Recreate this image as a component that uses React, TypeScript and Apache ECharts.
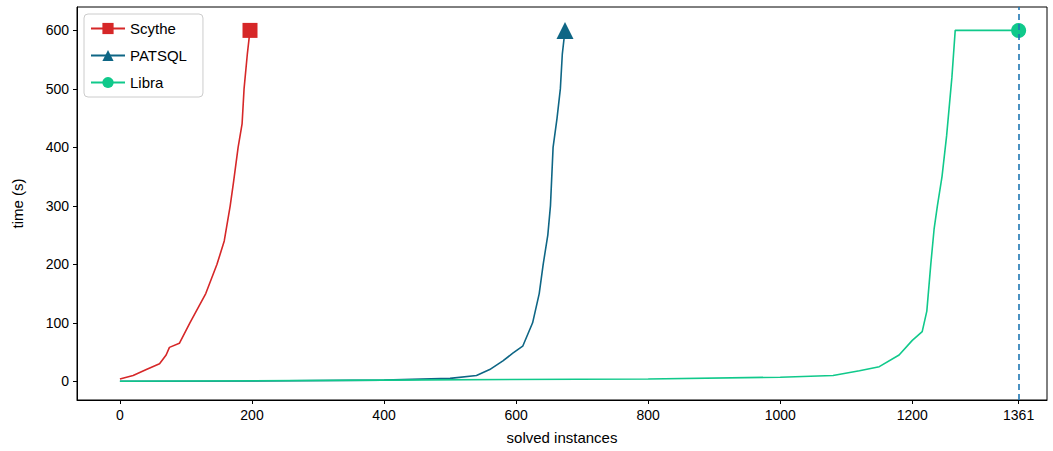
import React, { useEffect, useRef } from 'react';
import * as echarts from 'echarts';

const scytheData = [
  [0, 4], [20, 10], [40, 20], [60, 30], [70, 45], [75, 58], [90, 65], [106, 100], [130, 150],
  [147, 200], [158, 240], [167, 300], [172, 340], [179, 400], [185, 440], [188, 500], [193, 560], [197, 600],
];
const patsqlData = [
  [0, 0], [200, 0.5], [400, 2], [500, 5], [540, 10], [560, 20], [580, 35], [595, 48], [610, 60],
  [625, 100], [635, 150], [641, 200], [648, 250], [652, 300], [656, 400], [662, 450], [667, 500], [670, 560], [674, 600],
];
const libraData = [
  [0, 0], [400, 2], [800, 4], [1000, 7], [1080, 10], [1120, 18], [1150, 25], [1180, 45], [1200, 70],
  [1215, 85], [1222, 120], [1228, 200], [1233, 260], [1238, 300], [1245, 350], [1252, 420], [1256, 470],
  [1260, 520], [1265, 600], [1361, 600],
];
const xTicks = [0, 200, 400, 600, 800, 1000, 1200, 1361];
const yTicks = [0, 100, 200, 300, 400, 500, 600];
const totalInstances = 1361;

const endMarker = (n: number, size: number) => (_v: any, p: any) => (p.dataIndex === n - 1 ? size : 0);

const App: React.FC = () => {
  const chartRef = useRef<HTMLDivElement>(null);

  useEffect(() => {
    document.body.style.margin = '0';
    if (!chartRef.current) return;
    const chart = echarts.init(chartRef.current, undefined, { renderer: 'svg' });
    const font = 'Liberation Sans';
    chart.setOption({
      animation: false,
      textStyle: { fontFamily: font },
      grid: { left: 77, right: 6, top: 7, bottom: 51, show: true, borderColor: '#000', borderWidth: 1 },
      legend: {
        left: 84, top: 14, orient: 'vertical', itemWidth: 34, itemHeight: 14, itemGap: 12,
        borderColor: '#ccc', borderWidth: 1, borderRadius: 4, padding: [7, 16, 7, 6],
        textStyle: { fontSize: 15, color: '#000' },
        data: ['Scythe', 'PATSQL', 'Libra'],
      },
      xAxis: {
        type: 'value', min: -65, max: 1404,
        name: 'solved instances', nameLocation: 'middle', nameGap: 30,
        nameTextStyle: { fontSize: 15, color: '#000' },
        axisLine: { onZero: false, lineStyle: { color: '#000' } },
        axisTick: { customValues: xTicks, length: 4, lineStyle: { color: '#000' } },
        axisLabel: { customValues: xTicks, fontSize: 14, color: '#000', formatter: (v: number) => String(v) },
        splitLine: { show: false },
      },
      yAxis: {
        type: 'value', min: -32, max: 640, interval: 100,
        name: 'time (s)', nameLocation: 'middle', nameGap: 52,
        nameTextStyle: { fontSize: 15, color: '#000' },
        axisLine: { show: true, onZero: false, lineStyle: { color: '#000' } },
        axisTick: { show: true, length: 4, customValues: yTicks, lineStyle: { color: '#000' } },
        axisLabel: { customValues: yTicks, fontSize: 14, color: '#000' },
        splitLine: { show: false },
      },
      series: [
        {
          name: 'Scythe', type: 'line', data: scytheData, color: '#d62728',
          symbol: 'rect', symbolSize: endMarker(scytheData.length, 15), showAllSymbol: true,
          lineStyle: { width: 1.6 },
        },
        {
          name: 'PATSQL', type: 'line', data: patsqlData, color: '#0e6685',
          symbol: 'triangle', symbolSize: endMarker(patsqlData.length, 17), showAllSymbol: true,
          lineStyle: { width: 1.6 },
        },
        {
          name: 'Libra', type: 'line', data: libraData, color: '#10c98b',
          symbol: 'circle', symbolSize: endMarker(libraData.length, 15), showAllSymbol: true,
          lineStyle: { width: 1.6 },
          markLine: {
            silent: true, symbol: 'none', label: { show: false },
            lineStyle: { color: '#1f77b4', type: [6, 4], width: 1.6 },
            data: [{ xAxis: totalInstances }],
          },
        },
      ],
    });
    return () => chart.dispose();
  }, []);

  return <div ref={chartRef} style={{ width: 1053, height: 451 }} />;
};

export default App;
